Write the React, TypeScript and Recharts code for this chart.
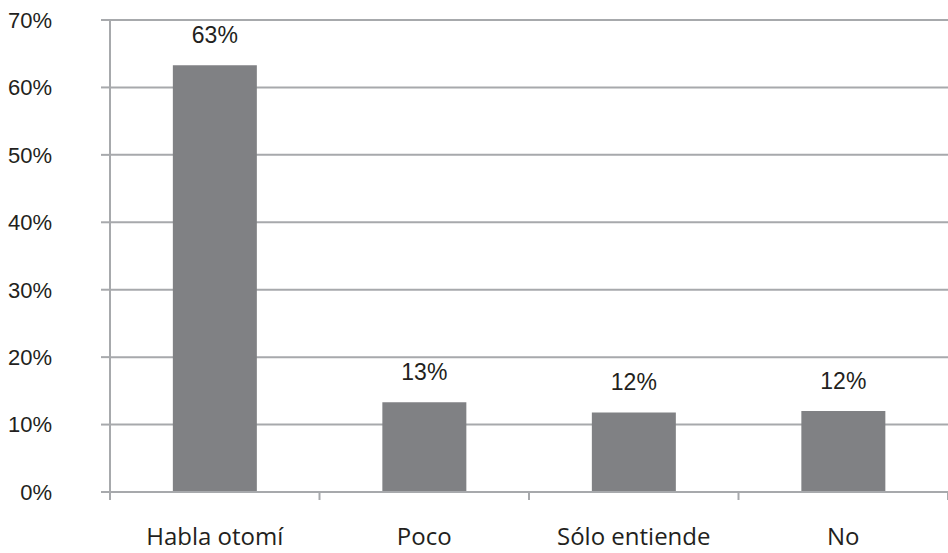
import { BarChart, Bar, XAxis, YAxis, CartesianGrid, LabelList } from 'recharts';

const categories = ['Habla otomí', 'Poco', 'Sólo entiende', 'No'];
const percentages = [63.3, 13.3, 11.8, 12.0];
const yTicks = [0, 10, 20, 30, 40, 50, 60, 70];

const chartData = categories.map((name, i) => ({ name, value: percentages[i] }));

const WIDTH = 948;
const HEIGHT = 553;
const Y_AXIS_W = 110;
const GRID = '#a7a9ac';
const TEXT = '#231f20';
const BAND = (WIDTH - Y_AXIS_W) / categories.length;

interface TickProps {
  x?: number;
  y?: number;
  index?: number;
  payload?: { value: string };
}

// category label in the middle, tick mark on the category boundary
function CategoryTick({ x = 0, y = 0, index = 0, payload }: TickProps) {
  const left = x - BAND / 2;
  const right = x + BAND / 2;
  return (
    <g>
      <line x1={left} y1={y} x2={left} y2={y + 8} stroke={GRID} strokeWidth={2} />
      {index === categories.length - 1 && (
        <line x1={right} y1={y} x2={right} y2={y + 8} stroke={GRID} strokeWidth={2} />
      )}
      <text
        x={x}
        y={y + 53}
        textAnchor="middle"
        fill={TEXT}
        fontSize={24}
        fontFamily="'Open Sans', sans-serif"
      >
        {payload?.value}
      </text>
    </g>
  );
}

export default function App() {
  return (
    <div style={{ width: WIDTH, height: HEIGHT }}>
      <style>{'body{margin:0}'}</style>
      <BarChart
        width={WIDTH}
        height={HEIGHT}
        data={chartData}
        margin={{ top: 20, right: 0, bottom: 0, left: 0 }}
        barCategoryGap="30%"
      >
        <CartesianGrid vertical={false} stroke={GRID} strokeWidth={2} />
        <XAxis
          dataKey="name"
          axisLine={{ stroke: GRID, strokeWidth: 2 }}
          tickLine={false}
          tickSize={0}
          tickMargin={0}
          tick={<CategoryTick />}
          interval={0}
          height={61}
        />
        <YAxis
          width={Y_AXIS_W}
          domain={[0, 70]}
          ticks={yTicks}
          tickFormatter={(v) => `${v}%`}
          axisLine={{ stroke: GRID, strokeWidth: 2 }}
          tickLine={{ stroke: GRID, strokeWidth: 2 }}
          tickSize={9}
          tickMargin={49}
          tick={{ fontSize: 22, fill: TEXT, fontFamily: "'Liberation Sans', Arial, sans-serif" }}
        />
        <Bar dataKey="value" fill="#808184" isAnimationActive={false}>
          <LabelList
            dataKey="value"
            position="top"
            offset={22}
            formatter={(v: number) => `${Math.round(v)}%`}
            style={{ fontSize: 23, fill: TEXT, fontFamily: "'Liberation Sans', Arial, sans-serif" }}
          />
        </Bar>
      </BarChart>
    </div>
  );
}
